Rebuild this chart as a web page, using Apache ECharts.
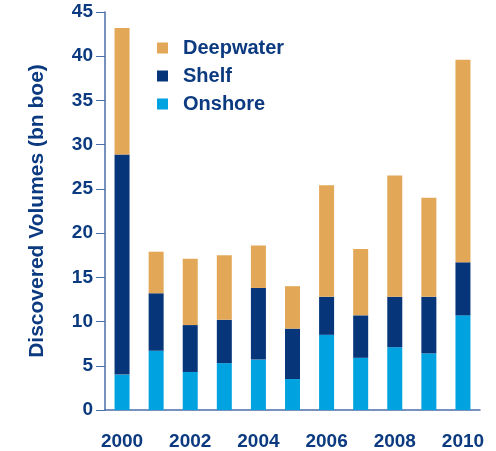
<!DOCTYPE html>
<html><head><meta charset="utf-8">
<script src="https://cdn.jsdelivr.net/npm/echarts@6/dist/echarts.min.js"></script>
<style>html,body{margin:0;padding:0;background:#fff}#c{width:496px;height:451px}</style>
</head><body><div id="c"></div>
<script>
const years = ['2000','2001','2002','2003','2004','2005','2006','2007','2008','2009','2010'];
const onshore = [4.0, 6.7, 4.3, 5.3, 5.7, 3.5, 8.5, 5.9, 7.1, 6.4, 10.7];
const shelf = [24.9, 6.5, 5.3, 4.9, 8.1, 5.7, 4.3, 4.8, 5.7, 6.4, 6.0];
const deepwater = [14.3, 4.7, 7.5, 7.3, 4.8, 4.8, 12.6, 7.5, 13.7, 11.2, 22.9];
const yTicks = [0,5,10,15,20,25,30,35,40,45];

const navy = '#0B3A80';
const fontFamily = '"Liberation Sans", Arial, sans-serif';
const chart = echarts.init(document.getElementById('c'));
chart.setOption({
  animation: false,
  grid: {left: 105, right: 16, top: 12, bottom: 41},
  legend: {
    orient: 'vertical', left: 152, top: 33,
    itemWidth: 11, itemHeight: 11, itemGap: 8,
    icon: 'rect',
    data: ['Deepwater','Shelf','Onshore'],
    textStyle: {color: navy, fontSize: 20, fontWeight: 'bold', fontFamily, padding: [0,0,0,10]}
  },
  xAxis: {
    type: 'category', data: years,
    axisLine: {lineStyle: {color: '#4A6EA8', width: 1.5}},
    axisTick: {length: 7, lineStyle: {color: '#4A6EA8'}},
    axisLabel: {interval: 1, color: navy, fontSize: 19, fontWeight: 'bold', fontFamily, margin: 22}
  },
  yAxis: {
    type: 'value', min: 0, max: 45, interval: 5,
    name: 'Discovered Volumes (bn boe)', nameLocation: 'middle', nameGap: 57,
    nameTextStyle: {color: navy, fontSize: 21, fontWeight: 'bold', fontFamily},
    axisLine: {show: true, lineStyle: {color: '#4A6EA8', width: 1.5}},
    axisTick: {show: true, length: 9, lineStyle: {color: '#4A6EA8'}},
    splitLine: {show: false},
    axisLabel: {color: navy, fontSize: 19, fontWeight: 'bold', fontFamily, margin: 12,
      formatter: v => yTicks.includes(v) ? String(v) : ''}
  },
  series: [
    {name: 'Onshore', type: 'bar', stack: 't', data: onshore, barWidth: 15, itemStyle: {color: '#00A3E0'}},
    {name: 'Shelf', type: 'bar', stack: 't', data: shelf, itemStyle: {color: '#06357A'}},
    {name: 'Deepwater', type: 'bar', stack: 't', data: deepwater, itemStyle: {color: '#E2A857'}}
  ]
});
</script></body></html>
